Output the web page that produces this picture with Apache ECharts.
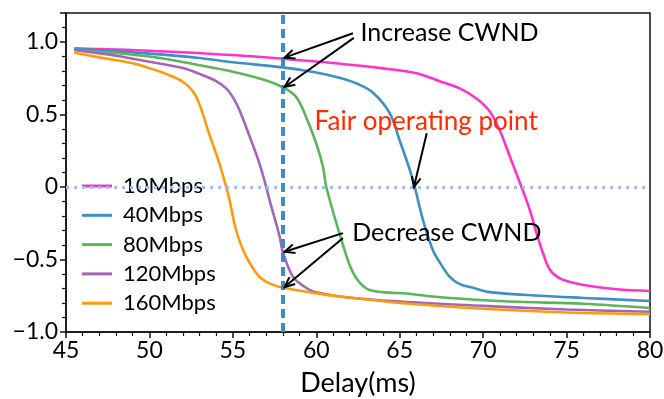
<!DOCTYPE html>
<html>
<head>
<meta charset="utf-8">
<script src="https://cdn.jsdelivr.net/npm/echarts@6/dist/echarts.min.js"></script>
<style>
html,body{margin:0;padding:0;background:#fff;}
#c{width:664px;height:399px;}
</style>
</head>
<body>
<div id="c"></div>
<script>
// ---- data ----
const seriesNames = ['10Mbps', '40Mbps', '80Mbps', '120Mbps', '160Mbps'];
const s10 = [[45.5,0.955],[50,0.94],[55,0.91],[58,0.885],[61,0.855],[64,0.818],[66,0.785],[67.4,0.73],[68.6,0.68],[69.6,0.61],[70.4,0.52],[71,0.39],[71.6,0.21],[72.3,0.0],[72.8,-0.16],[73.2,-0.32],[73.6,-0.46],[74,-0.57],[74.6,-0.63],[75.4,-0.66],[76.5,-0.685],[78,-0.705],[80,-0.717]];
const s40 = [[45.5,0.955],[50,0.92],[53,0.89],[55,0.86],[58,0.825],[60,0.79],[61.5,0.75],[62.5,0.71],[63.4,0.65],[64.4,0.51],[65,0.32],[65.6,0.12],[65.9,0.0],[66.4,-0.23],[67,-0.44],[67.4,-0.52],[68,-0.62],[68.6,-0.67],[69.4,-0.695],[70.4,-0.725],[73.4,-0.75],[76,-0.765],[80,-0.786]];
const s80 = [[45.5,0.945],[50,0.9],[53,0.84],[55,0.795],[57,0.735],[58,0.687],[58.8,0.62],[59.4,0.48],[60,0.30],[60.4,0.14],[60.6,0.0],[61.6,-0.40],[62.2,-0.59],[63,-0.70],[64,-0.725],[65.4,-0.735],[67.4,-0.76],[71.6,-0.79],[76,-0.805],[80,-0.835]];
const s120 = [[45.5,0.945],[48,0.905],[50,0.864],[52,0.82],[53,0.78],[54,0.73],[54.6,0.68],[55,0.62],[55.4,0.53],[56,0.35],[56.6,0.16],[57,0.0],[57.2,-0.09],[57.8,-0.34],[58,-0.45],[58.6,-0.62],[59.2,-0.68],[59.8,-0.72],[61.8,-0.76],[65,-0.79],[70,-0.82],[75,-0.845],[80,-0.86]];
const s160 = [[45.5,0.926],[47,0.894],[49,0.853],[50,0.82],[51,0.78],[52,0.726],[52.6,0.66],[53,0.57],[53.6,0.36],[54.2,0.16],[54.6,0.0],[54.8,-0.09],[55.2,-0.30],[55.8,-0.48],[56.6,-0.62],[57.3,-0.67],[58,-0.695],[59.8,-0.73],[61.8,-0.76],[65,-0.8],[70,-0.84],[75,-0.865],[80,-0.876]];
const xTicks = [45, 50, 55, 60, 65, 70, 75, 80];
const yTicks = [-1.0, -0.5, 0, 0.5, 1.0];
const operatingDelay = 58;
const zeroAction = 0;
// annotation arrows: [tail, tip] in data coords
const increaseArrows = [[[62.2,1.06],[58.1,0.892]], [[62.25,1.028],[58.1,0.69]]];
const decreaseArrows = [[[61.6,-0.318],[58.1,-0.447]], [[61.6,-0.352],[58.1,-0.69]]];
const fairArrow = [[66.62,0.37],[65.85,0.0]];
const labels = [
  {text:'Increase CWND', at:[62.65,1.06], color:'#000', size:25},
  {text:'Decrease CWND', at:[62.15,-0.317], color:'#000', size:25},
  {text:'Fair operating point', at:[59.9,0.448], color:'#ff2a00', size:26}
];

const colors = ['#ff33cc', '#3f8fc6', '#5cb55a', '#a365b8', '#ff9a0a'];
const FONT = 'Lato';
const chart = echarts.init(document.getElementById('c'));
const dataList = [s10, s40, s80, s120, s160];

function fmt(v){
  if (Math.abs(v) < 1e-9) return '0';
  if (v > 1.05) return '';
  return (v < 0 ? '\u2212' : '') + Math.abs(v).toFixed(1);
}

const series = dataList.map((d, i) => ({
  name: seriesNames[i], type: 'line', data: d, showSymbol: false, symbol: 'none',
  smooth: 0.35,
  lineStyle: {color: colors[i], width: 2.6}, itemStyle: {color: colors[i]}, z: 3
}));
series.push({
  name: 'ref', type: 'line', data: [], silent: true,
  markLine: {
    symbol: 'none', silent: true, animation: false, label: {show: false},
    data: [
      {yAxis: zeroAction, lineStyle: {color: '#a9b8ef', width: 3, type: [3, 5]}},
      {xAxis: operatingDelay, lineStyle: {color: '#3d8bc7', width: 4, type: [9, 5]}}
    ]
  }, z: 5
});

chart.setOption({
  animation: false,
  grid: {left: 66, right: 14, top: 13, bottom: 67, outerBoundsMode: 'none', containLabel: false, show: true, borderColor: '#111', borderWidth: 1.5, backgroundColor: 'transparent'},
  legend: {
    data: seriesNames, orient: 'vertical', left: 77, top: 170, icon: 'rect',
    itemWidth: 30, itemHeight: 3, itemGap: 7.3,
    textStyle: {fontFamily: FONT, fontSize: 22, color: '#000', lineHeight: 21, padding: [0,0,0,6]}
  },
  xAxis: {
    type: 'value', min: 45, max: 80, interval: 5,
    name: 'Delay(ms)', nameLocation: 'middle', nameGap: 38,
    nameTextStyle: {fontFamily: FONT, fontSize: 27, color: '#000'},
    axisLine: {show: true, onZero: false, lineStyle: {color: '#111', width: 1.5}},
    axisTick: {show: true, length: 6, lineStyle: {color: '#111', width: 1.5}},
    minorTick: {show: true, splitNumber: 5, length: 4, lineStyle: {color: '#111', width: 1.2}},
    splitLine: {show: false},
    axisLabel: {fontFamily: FONT, fontSize: 23, color: '#000', margin: 7, formatter: v => xTicks.includes(v) ? String(v) : ''}
  },
  yAxis: {
    type: 'value', min: -1.0, max: 1.2, interval: 0.5,
    name: 'Action', nameLocation: 'middle', nameGap: 42,
    nameTextStyle: {fontFamily: FONT, fontSize: 27, color: '#000'},
    axisLine: {show: true, onZero: false, lineStyle: {color: '#111', width: 1.5}},
    axisTick: {show: true, length: 6, lineStyle: {color: '#111', width: 1.5}},
    minorTick: {show: true, splitNumber: 5, length: 4, lineStyle: {color: '#111', width: 1.2}},
    splitLine: {show: false},
    axisLabel: {fontFamily: FONT, fontSize: 23, color: '#000', margin: 8, formatter: v => yTicks.some(t => Math.abs(t - v) < 1e-9) ? fmt(v) : ''}
  },
  series: series
});

// annotations drawn from data coordinates
function px(p){ return chart.convertToPixel({gridIndex: 0}, p); }
function arrow(tail, tip){
  const a = px(tail), b = px(tip);
  const ang = Math.atan2(a[1] - b[1], a[0] - b[0]);
  const L = 11, spread = 0.42;
  const h1 = [b[0] + L * Math.cos(ang + spread), b[1] + L * Math.sin(ang + spread)];
  const h2 = [b[0] + L * Math.cos(ang - spread), b[1] + L * Math.sin(ang - spread)];
  return [
    {type: 'polyline', z: 20, shape: {points: [a, b]}, style: {stroke: '#000', lineWidth: 2, fill: null}},
    {type: 'polyline', z: 20, shape: {points: [h1, b, h2]}, style: {stroke: '#000', lineWidth: 2, fill: null}}
  ];
}
let g = [];
increaseArrows.concat(decreaseArrows).concat([fairArrow]).forEach(ar => { g = g.concat(arrow(ar[0], ar[1])); });
labels.forEach(l => {
  const p = px(l.at);
  g.push({type: 'text', z: 20, x: p[0], y: p[1], style: {text: l.text, fill: l.color, font: l.size + 'px ' + FONT, textAlign: 'left', textVerticalAlign: 'middle'}});
});
chart.setOption({graphic: g});
</script>
</body>
</html>
